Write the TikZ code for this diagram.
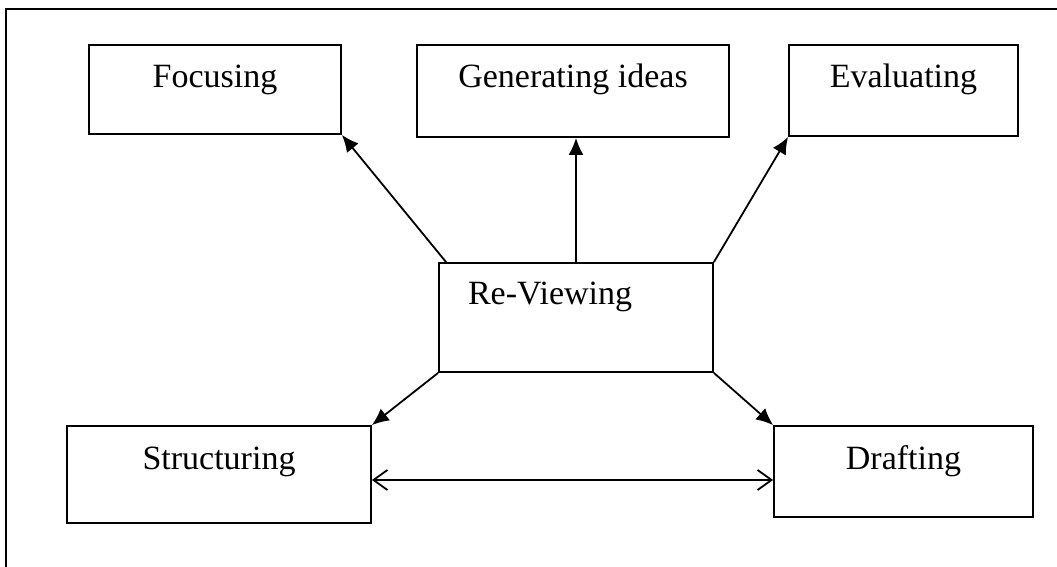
\documentclass[tikz,border=0pt]{standalone}
\usepackage{fontspec}
\setmainfont{Liberation Serif}
\usetikzlibrary{arrows.meta}
\newcommand{\stagefont}{\fontsize{17}{20}\selectfont}

\begin{document}
\begin{tikzpicture}[x=0.5pt, y=-0.5pt, line width=0.9pt, >={Latex[length=8.5pt,width=7.5pt]},
	every node/.style={font=\stagefont},
	stage/.style={draw, rectangle, inner sep=0pt},
	open/.style={{Straight Barb[length=7pt,width=10pt]}-{Straight Barb[length=7pt,width=10pt]}}]
		\useasboundingbox (0,0) rectangle (1057,567);
		\draw[line width=1pt] (6,9) rectangle (1090,600);
		
		\node[stage, minimum width=126pt, text height=21.5pt, text depth=23pt] (focus) at (215,89.5) {Focusing};
		\node[stage, minimum width=156pt, text height=21.5pt, text depth=24.5pt] (gen) at (573,91) {Generating ideas};
		\node[stage, minimum width=114.5pt, text height=21.5pt, text depth=24pt] (eval) at (903.5,90.5) {Evaluating};
		\node[stage, text width=108pt, inner xsep=14.5pt, align=left, text height=21pt, text depth=33.5pt] (review) at (576,317.5) {Re-Viewing};
		\node[stage, minimum width=152pt, text height=22pt, text depth=26.5pt] (struct) at (219,474.5) {Structuring};
		\node[stage, minimum width=129.5pt, text height=21.5pt, text depth=24pt] (draft) at (903.5,471.5) {Drafting};
		
		\draw[->] ([xshift=4pt]review.north west) -- (focus.south east);
		\draw[->] (review.north) -- (review.north |- gen.south);
		\draw[->] (review.north east) -- (eval.south west);
		\draw[->] (review.south west) -- (struct.north east);
		\draw[->] (review.south east) -- (draft.north west);
		\draw[open] ([yshift=-2.75pt]struct.east) -- ([yshift=-2.75pt]struct.east -| draft.west);
\end{tikzpicture}
\end{document}
